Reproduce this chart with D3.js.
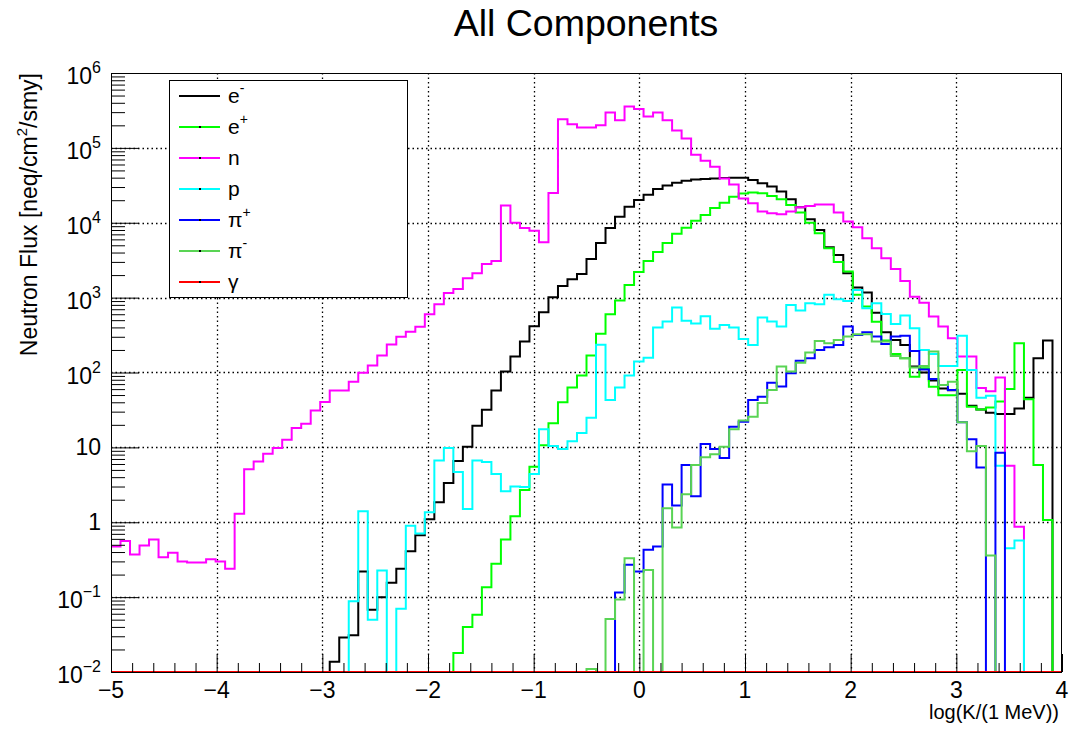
<!DOCTYPE html>
<html>
<head>
<meta charset="utf-8">
<script src="https://cdn.jsdelivr.net/npm/d3@7"></script>
<style>
  html, body { margin: 0; padding: 0; background: #fff; }
  svg { display: block; }
  text { font-family: "Liberation Sans", Arial, Helvetica, sans-serif; fill: #000; }
</style>
</head>
<body>
<svg id="chart" width="1070" height="731"></svg>
<script>
// ---------------- data ----------------
const N_BINS = 100;
const X_MIN = -5, X_MAX = 4;
const Y_MIN = 1e-2, Y_MAX = 1e6;

const seriesNames = ["e-", "e+", "n", "p", "pi+", "pi-", "gamma"];

const electron = [
  0,0,0,0,0,0,0,0,0,0,
  0,0,0,0,0,0,0,0,0,0,
  0,0,0,0.0137,0.029,0.031,0.22,0.068,0.10,0.156,
  0.24,0.41,0.67,1.1,1.85,3.35,6.6,10.2,19.4,31.7,
  57.5,103,164,259,415,640,1010,1430,1760,2070,
  3270,5370,8500,12000,16300,20100,23600,28300,31400,34300,
  36500,37800,38500,39000,39500,40000,40000,37300,33700,30400,
  26100,20600,16100,11100,8020,4700,3720,2110,1370,1170,
  630,345,272,233,120,100,78,61,58,52,
  36,32,29,28,28,33,46,155,267,0
];
const positron = [
  0,0,0,0,0,0,0,0,0,0,
  0,0,0,0,0,0,0,0,0,0,
  0,0,0,0,0,0,0,0,0,0,
  0,0,0,0,0,0,0.018,0.040,0.058,0.135,
  0.28,0.59,1.2,2.7,5.5,10.7,21,40,63,91,
  169,330,600,915,1470,2200,3080,4080,5370,7130,
  8580,10600,12700,15700,18500,22200,24500,25300,24800,22800,
  20600,17300,13700,10000,7240,4570,3000,2230,1090,760,
  478,267,177,155,88,114,64.5,49.6,49.6,108,
  35,32,34,41,60,245,44,5.8,1.07,0
];
const neutron = [
  0.475,0.56,0.37,0.49,0.59,0.34,0.39,0.30,0.29,0.29,
  0.32,0.30,0.24,1.3,5.1,6.5,8.2,9.8,12.6,18.2,
  20.6,31,40.5,57.5,57.5,75.5,99,124,169,236,
  300,349,409,600,818,1150,1300,1820,2120,2820,
  3080,17000,10000,8500,7800,5500,25000,241000,206000,187000,
  187000,200000,297000,233000,358000,330000,263000,297000,233000,171000,
  133000,81000,67500,56000,39000,32500,21000,18200,14100,13400,
  13000,14100,16100,16800,17500,17500,13700,10400,8700,6200,
  4560,3360,2420,1670,1030,855,558,410,286,163,
  163,62,56,86,5.7,0.87,0,0,0,0
];
const proton = [
  0,0,0,0,0,0,0,0,0,0,
  0,0,0,0,0,0,0,0,0,0,
  0,0,0,0,0,0.088,1.4,0.050,0.226,0,
  0.070,0.90,0.71,1.36,6.7,9.8,4.7,1.5,6.7,6.4,
  4.4,2.6,3.0,2.96,4.4,17.5,10.4,9.5,12.1,15.5,
  24.8,235,43,63,91,140,158,400,480,740,
  490,450,565,385,430,400,281,233,541,479,
  410,795,671,841,815,1090,950,902,1260,721,
  841,605,446,575,390,200,177,122,122,310,
  108,46,49,5.7,0.45,0.57,0,0,0,0
];
const pionPlus = [
  0,0,0,0,0,0,0,0,0,0,
  0,0,0,0,0,0,0,0,0,0,
  0,0,0,0,0,0,0,0,0,0,
  0,0,0,0,0,0,0,0,0,0,
  0,0,0,0,0,0,0,0,0,0,
  0,0,0,0.115,0.27,0.22,0.43,0.475,3.2,1.68,
  5.8,2.23,11.1,9.5,7.2,18.9,22,43,47.6,73,
  65,98,144,155,200,217,233,410,316,345,
  302,240,302,310,194,110,82,68,58.5,21.6,
  12.8,5.4,0,8.5,0,0,0,0,0,0
];
const pionMinus = [
  0,0,0,0,0,0,0,0,0,0,
  0,0,0,0,0,0,0,0,0,0,
  0,0,0,0,0,0,0,0,0,0,
  0,0,0,0,0,0,0,0,0,0,
  0,0,0,0,0,0,0,0,0,0,
  0.011,0,0.051,0.093,0.33,0,0.23,0,1.54,0.85,
  2.37,5.8,7.4,8.1,10.2,17.5,22.8,25.7,39,58.5,
  120,103,135,185,264,245,272,302,324,324,
  259,259,166,155,117,122,191,68,75.5,21.6,
  8.9,10.4,0.36,0,0,0,0,0,0,0
];
const gamma = new Array(N_BINS).fill(0);

const seriesValues = [electron, positron, neutron, proton, pionPlus, pionMinus, gamma];
const seriesColors = ["#000000", "#00ff00", "#ff00ff", "#00ffff", "#0000ff", "#59d454", "#ff0000"];
const legendLabels = [["e", "-"], ["e", "+"], ["n", ""], ["p", ""], ["π", "+"], ["π", "-"], ["γ", ""]];

const xTickValues = [-5, -4, -3, -2, -1, 0, 1, 2, 3, 4];
const xTickLabels = ["\u22125", "\u22124", "\u22123", "\u22122", "\u22121", "0", "1", "2", "3", "4"];
const yTickValues = [1e-2, 1e-1, 1, 10, 1e2, 1e3, 1e4, 1e5, 1e6];
const yTickBase = ["10", "10", "1", "10", "10", "10", "10", "10", "10"];
const yTickExp = ["\u22122", "\u22121", "", "", "2", "3", "4", "5", "6"];

const titleText = "All Components";
const xTitle = "log(K/(1 MeV))";

// ---------------- layout ----------------
const FX0 = 111, FX1 = 1062, FY0 = 73, FY1 = 672;
const svg = d3.select("#chart");

const x = d3.scaleLinear().domain([X_MIN, X_MAX]).range([FX0, FX1]);
const y = d3.scaleLog().domain([Y_MIN, Y_MAX]).range([FY1, FY0]);
const binW = (X_MAX - X_MIN) / N_BINS;

svg.append("rect").attr("x", 0).attr("y", 0).attr("width", 1070).attr("height", 731).attr("fill", "#fff");

// grid
const grid = svg.append("g").attr("stroke", "#000").attr("stroke-width", 1.3).attr("stroke-dasharray", "1.5,3");
grid.selectAll("line.gx").data(xTickValues.slice(1, -1)).join("line")
  .attr("x1", d => Math.round(x(d)) + 0.5).attr("x2", d => Math.round(x(d)) + 0.5)
  .attr("y1", FY0).attr("y2", FY1);
grid.selectAll("line.gy").data(yTickValues.slice(1, -1)).join("line")
  .attr("y1", d => Math.round(y(d)) + 0.5).attr("y2", d => Math.round(y(d)) + 0.5)
  .attr("x1", FX0).attr("x2", FX1);

svg.append("clipPath").attr("id", "frameClip").append("rect")
  .attr("x", FX0).attr("y", FY0 - 1).attr("width", FX1 - FX0).attr("height", FY1 - FY0 + 3);

// histograms
const line = d3.line()
  .x(d => x(d[0]))
  .y(d => y(Math.max(d[1], Y_MIN)))
  .curve(d3.curveStepAfter);

const hg = svg.append("g").attr("clip-path", "url(#frameClip)");
seriesValues.forEach((vals, k) => {
  const pts = vals.map((v, i) => [X_MIN + i * binW, v]);
  pts.push([X_MAX, vals[vals.length - 1]]);
  hg.append("path")
    .attr("d", line(pts))
    .attr("fill", "none")
    .attr("stroke", seriesColors[k])
    .attr("stroke-width", 2)
    .attr("stroke-linejoin", "miter");
});

// frame
svg.append("rect").attr("x", FX0 + 0.5).attr("y", FY0 + 0.5)
  .attr("width", FX1 - FX0 - 1).attr("height", FY1 - FY0)
  .attr("fill", "none").attr("stroke", "#000").attr("stroke-width", 1);

// x axis ticks
const xMinor = d3.range(X_MIN, X_MAX + 1e-9, 0.2).filter(v => Math.abs(v - Math.round(v)) > 1e-6);
const xAxisMajor = d3.axisTop(x).tickValues(xTickValues).tickSize(18).tickFormat("");
const xAxisMinor = d3.axisTop(x).tickValues(xMinor).tickSize(9).tickFormat("");
[xAxisMajor, xAxisMinor].forEach(ax => {
  const g = svg.append("g").attr("transform", `translate(0,${FY1})`).call(ax);
  g.select(".domain").remove();
  g.selectAll("line").attr("stroke", "#000").attr("stroke-width", 1);
});
svg.append("g").selectAll("text").data(xTickValues).join("text")
  .attr("x", d => x(d)).attr("y", 698)
  .attr("text-anchor", "middle").attr("font-size", 23)
  .text((d, i) => xTickLabels[i]);

// y axis ticks
const yMinor = [];
for (let e = -2; e < 6; e++) for (let m = 2; m <= 9; m++) yMinor.push(m * Math.pow(10, e));
const yAxisMajor = d3.axisRight(y).tickValues(yTickValues).tickSize(28).tickFormat("");
const yAxisMinor = d3.axisRight(y).tickValues(yMinor).tickSize(14).tickFormat("");
[yAxisMajor, yAxisMinor].forEach(ax => {
  const g = svg.append("g").attr("transform", `translate(${FX0},0)`).call(ax);
  g.select(".domain").remove();
  g.selectAll("line").attr("stroke", "#000").attr("stroke-width", 1);
});
const yl = svg.append("g").selectAll("text").data(yTickValues).join("text")
  .attr("x", 101)
  .attr("y", (d, i) => y(d) + (yTickExp[i] ? 11 : 8))
  .attr("text-anchor", "end").attr("font-size", 23);
yl.append("tspan").text((d, i) => yTickBase[i]);
yl.append("tspan").attr("font-size", 16).attr("dy", -11).text((d, i) => yTickExp[i]);

// titles
svg.append("text").attr("x", 586).attr("y", 36).attr("text-anchor", "middle")
  .attr("font-size", 37.5).text(titleText);
svg.append("text").attr("x", 1059).attr("y", 719).attr("text-anchor", "end")
  .attr("font-size", 20).text(xTitle);
const yt = svg.append("text").attr("transform", "translate(37,73) rotate(-90)")
  .attr("text-anchor", "end").attr("font-size", 23);
yt.append("tspan").text("Neutron Flux [neq/cm");
yt.append("tspan").attr("font-size", 15).attr("dy", -10).text("2");
yt.append("tspan").attr("dy", 10).text("/smy]");

// legend
const LX0 = 169.5, LY0 = 80.5, LW = 238, LH = 217;
const lg = svg.append("g");
lg.append("rect").attr("x", LX0).attr("y", LY0).attr("width", LW).attr("height", LH)
  .attr("fill", "#fff").attr("stroke", "#000").attr("stroke-width", 1);
const rowY = i => 96 + i * 31;
seriesNames.forEach((nm, i) => {
  lg.append("line").attr("x1", 179).attr("x2", 220).attr("y1", rowY(i)).attr("y2", rowY(i))
    .attr("stroke", seriesColors[i]).attr("stroke-width", 2);
  lg.append("rect").attr("x", 199).attr("y", rowY(i) - 1).attr("width", 2).attr("height", 2).attr("fill", "#000");
  const t = lg.append("text").attr("x", 228).attr("y", rowY(i) + 7).attr("font-size", 21);
  t.append("tspan").text(legendLabels[i][0]);
  if (legendLabels[i][1]) t.append("tspan").attr("font-size", 14).attr("dy", -10).text(legendLabels[i][1]);
});
</script>
</body>
</html>
